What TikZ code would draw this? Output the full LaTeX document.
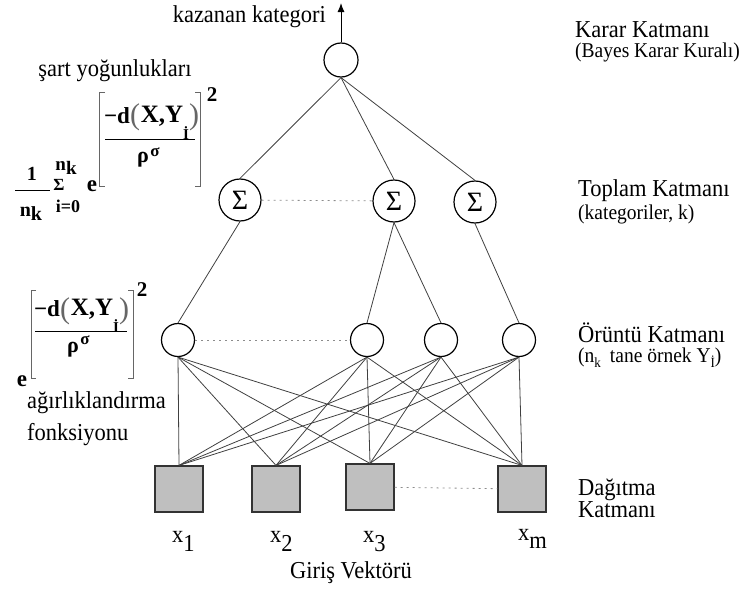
\documentclass[tikz,border=0pt]{standalone}
\usepackage{fontspec}
\usepackage{graphicx}
\setmainfont{Liberation Serif}
\usetikzlibrary{arrows.meta}
\newcommand\vsc[1]{\scalebox{1}[1.08]{#1}}
\begin{document}
\begin{tikzpicture}[x=1pt,y=-1pt,
  conn/.style={draw=black!75, line width=0.8pt},
  dotl/.style={draw=black!45, line width=0.8pt, dash pattern=on 2pt off 4pt},
  decnode/.style={circle, draw=black, line width=1.2pt, inner sep=0pt, minimum size=34pt},
  patnode/.style={circle, draw=black, line width=1.2pt, inner sep=0pt, minimum size=33pt},
  sumnode/.style={circle, draw=black, line width=1.2pt, inner sep=0pt, minimum size=42pt, font=\fontsize{28}{28}\selectfont},
  inbox/.style={rectangle, draw=black!80, fill=black!25, line width=1.2pt, minimum width=48pt, minimum height=46pt, inner sep=0pt},
  lbl/.style={inner sep=0pt, anchor=base west, font=\fontsize{22.5}{26}\selectfont},
  sublbl/.style={inner sep=0pt, anchor=base west, font=\fontsize{19.5}{24}\selectfont},
  fml/.style={inner sep=0pt, font=\fontsize{#1}{#1}\selectfont\bfseries},
  fmlr/.style={inner sep=0pt, text=black!60, font=\fontsize{#1}{#1}\selectfont},
  brk/.style={draw=black!60, line width=0.8pt}
]
\useasboundingbox (0,0) rectangle (744,589);

% ---------------- nodes ----------------
\node[decnode] (dec) at (341,60) {};
\coordinate (out) at (341,3);

\node[sumnode] (s1) at (240,200) {Σ};
\node[sumnode] (s2) at (394,201) {Σ};
\node[sumnode] (s3) at (475,202) {Σ};

\node[patnode] (p1) at (178,340) {};
\node[patnode] (p2) at (367,340) {};
\node[patnode] (p3) at (441,340) {};
\node[patnode] (p4) at (519,340) {};

\node[inbox] (b1) at (179,489) {};
\node[inbox] (b2) at (276,489) {};
\node[inbox] (b3) at (370,487) {};
\node[inbox] (b4) at (522,489) {};

% ---------------- connectors ----------------
\draw[draw=black, line width=1pt, -{Latex[length=9pt,width=7pt]}] (dec.north) -- (out);
\foreach \s in {s1,s2,s3} \draw[conn] (dec.south) -- (\s.north);
\draw[conn] (s1.south) -- (p1.north);
\draw[conn] (s2.south) -- (p2.north);
\draw[conn] (s2.south) -- (p3.north);
\draw[conn] (s3.south) -- (p4.north);
\foreach \p in {p1,p2,p3,p4}
  \foreach \b in {b1,b2,b3,b4}
    \draw[conn] (\p.south) -- (\b.north);

\draw[dotl] (s1) -- (s2);
\draw[dotl] (p1) -- (p2);
\draw[dotl] (b3) -- (b4);

% ---------------- labels ----------------
\node[lbl, anchor=base east] (kaz) at (326,22) {\vsc{kazanan kategori}};

\node[lbl] (kk) at (575,37) {\vsc{Karar Katmanı}};
\node[sublbl] (bk) at (575,57) {\vsc{(Bayes Karar Kuralı)}};
\node[lbl] (tk) at (578,196) {\vsc{Toplam Katmanı}};
\node[sublbl] (kt) at (578,219) {\vsc{(kategoriler, k)}};
\node[lbl] (ok) at (578,342) {\vsc{Örüntü Katmanı}};
\node[sublbl] (ot) at (578,362) {\vsc{(n\raisebox{-5pt}{\fontsize{13}{13}\selectfont k}\hspace{9pt}tane örnek Y\raisebox{-5pt}{\fontsize{13}{13}\selectfont İ})}};
\node[lbl] (dg) at (578,495) {\vsc{Dağıtma}};
\node[lbl] (dk) at (578,517) {\vsc{Katmanı}};

\node[lbl] (x1) at (172,542) {\vsc{x\raisebox{-9pt}{1}}};
\node[lbl] (x2) at (270,542) {\vsc{x\raisebox{-9pt}{2}}};
\node[lbl] (x3) at (363,542) {\vsc{x\raisebox{-9pt}{3}}};
\node[lbl] (xm) at (518,540) {\vsc{x\raisebox{-8pt}{m}}};
\node[lbl, anchor=base] (gv) at (351,578) {\vsc{Giriş Vektörü}};

\node[lbl, anchor=base] (sy) at (115,76) {\vsc{şart yoğunlukları}};
\node[lbl] (ag) at (27,408) {\vsc{ağırlıklandırma}};
\node[lbl] (fk) at (27,440) {\vsc{fonksiyonu}};

% ---------------- formula 1 (density) ----------------
\node[fml=20] (f1a) at (32,174) {1};
\draw[draw=black, line width=1pt] (15,190) -- (50,190);
\node[fml=20] (f1b) at (31,214) {n\raisebox{-4pt}{k}};
\node[fml=17] (f1s) at (59,185) {Σ};
\node[fml=19] (f1u) at (66,168) {n\raisebox{-4pt}{k}};
\node[fml=18] (f1l) at (68,206) {i=0};
\node[fml=23] (f1e) at (92,186) {e};
\draw[brk] (105,92) -- (99,92) -- (99,186) -- (105,186);
\draw[brk] (195,92) -- (200,92) -- (200,186) -- (195,186);
\node[fml=21] (f1q) at (212,95) {2};
\node[fml=23] (f1d) at (117,116) {−d};
\node[fmlr=30] (f1p) at (135,117) {(};
\node[fml=25] (f1x) at (162,116) {X,Y};
\node[fml=15] (f1i) at (186,133) {İ};
\node[fmlr=30] (f1r) at (194,117) {)};
\draw[draw=black, line width=1pt] (105,139) -- (195,139);
\node[fml=22] (f1rho) at (143,160) {ρ};
\node[fml=17] (f1sig) at (155,152) {σ};

% ---------------- formula 2 (weighting) ----------------
\draw[brk] (36,290) -- (31,290) -- (31,378) -- (36,378);
\draw[brk] (128,290) -- (133,290) -- (133,378) -- (128,378);
\node[fml=21] (f2q) at (142,290) {2};
\node[fml=23] (f2d) at (47,309) {−d};
\node[fmlr=30] (f2p) at (65,311) {(};
\node[fml=25] (f2x) at (92,309) {X,Y};
\node[fml=15] (f2i) at (116,326) {İ};
\node[fmlr=30] (f2r) at (124,311) {)};
\draw[draw=black, line width=1pt] (35,331) -- (127,331);
\node[fml=22] (f2rho) at (73,350) {ρ};
\node[fml=17] (f2sig) at (85,340) {σ};
\node[fml=23] (f2e) at (22,381) {e};
\end{tikzpicture}
\end{document}
